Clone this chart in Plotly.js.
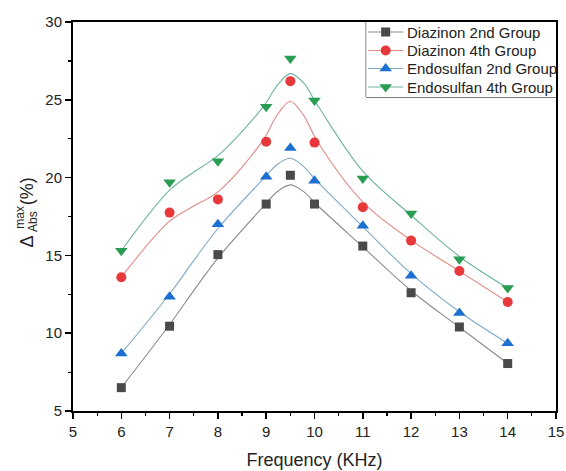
<!DOCTYPE html>
<html>
<head>
<meta charset="utf-8">
<script src="https://cdn.plot.ly/plotly-3.0.1.min.js"></script>
<style>html,body{margin:0;padding:0;background:#fff;}#chart{width:566px;height:471px;}</style>
</head>
<body>
<div id="chart"></div>
<script>
// Measured points
var freq = [6, 7, 8, 9, 9.5, 10, 11, 12, 13, 14];
var diazinon2 = [6.5, 10.45, 15.05, 18.3, 20.15, 18.3, 15.6, 12.6, 10.4, 8.05];
var diazinon4 = [13.6, 17.75, 18.6, 22.3, 26.2, 22.25, 18.1, 15.95, 14.0, 12.0];
var endosulfan2 = [8.7, 12.35, 17.0, 20.05, 21.9, 19.8, 16.9, 13.7, 11.3, 9.35];
var endosulfan4 = [15.3, 19.7, 21.05, 24.55, 27.65, 24.95, 19.95, 17.7, 14.75, 12.9];

// Smoothed connecting curves
var curveX = [6, 7, 7.5, 8, 8.92, 9.24, 9.5, 9.76, 10.08, 11, 12, 13, 14];
var curveD2 = [6.5, 10.56, 12.74, 14.83, 18.07, 19.12, 19.53, 19.13, 18.16, 15.55, 12.73, 10.38, 8.05];
var curveD4 = [13.6, 17.2, 18.17, 19.08, 22.33, 24.09, 24.89, 24.06, 22.22, 18.43, 15.98, 13.99, 12.0];
var curveE2 = [8.7, 12.52, 14.66, 16.73, 19.85, 20.87, 21.24, 20.75, 19.67, 16.85, 13.83, 11.38, 9.35];
var curveE4 = [15.3, 19.19, 20.36, 21.41, 24.48, 25.97, 26.68, 26.13, 24.57, 20.41, 17.58, 14.93, 12.9];

var seriesNames = ["Diazinon 2nd Group", "Diazinon 4th Group", "Endosulfan 2nd Group", "Endosulfan 4th Group"];
var xTicks = [5, 6, 7, 8, 9, 10, 11, 12, 13, 14, 15];
var yTicks = [5, 10, 15, 20, 25, 30];

var pts = [diazinon2, diazinon4, endosulfan2, endosulfan4];
var curves = [curveD2, curveD4, curveE2, curveE4];
var markerColors = ["#4a4a4a", "#e8383b", "#1d6fd1", "#2a9d55"];
var lineColors = ["#8c8c8c", "#e08a84", "#7fa8c8", "#6fb3a0"];
var symbols = ["square", "circle", "triangle-up", "triangle-down"];
var sizes = [9, 10, 11, 11];

var fontFam = "Liberation Sans, Arial, sans-serif";
var traces = [];
for (var i = 0; i < 4; i++) {
  traces.push({x: curveX, y: curves[i], mode: "lines", line: {color: lineColors[i], width: 1.1, shape: "spline", smoothing: 1}, showlegend: false, hoverinfo: "skip"});
}
for (var j = 0; j < 4; j++) {
  traces.push({x: freq, y: pts[j], mode: "markers", marker: {symbol: symbols[j], size: sizes[j], color: markerColors[j]}, showlegend: false});
}

// Custom legend drawn in its own small axes (units: pixels inside the legend box)
var legendRowY = [10, 28.5, 46.5, 65];
var annotations = [];
for (var k = 0; k < 4; k++) {
  traces.push({x: [2, 37], y: [legendRowY[k], legendRowY[k]], xaxis: "x2", yaxis: "y2", mode: "lines",
    line: {color: lineColors[k], width: 1.1}, showlegend: false, hoverinfo: "skip"});
  traces.push({x: [19.5], y: [legendRowY[k]], xaxis: "x2", yaxis: "y2", mode: "markers",
    marker: {symbol: symbols[k], size: sizes[k], color: markerColors[k]}, showlegend: false, hoverinfo: "skip"});
  annotations.push({xref: "x2", yref: "y2", x: 39, y: legendRowY[k], xanchor: "left", yanchor: "middle", showarrow: false,
    text: seriesNames[k], font: {size: 15, family: fontFam, color: "#222"}});
}

annotations = annotations.concat([
  {xref: "paper", yref: "paper", x: -0.095, y: 0.436, xanchor: "center", yanchor: "middle", text: "Δ", textangle: -90, showarrow: false, font: {size: 18, family: fontFam, color: "#222"}},
  {xref: "paper", yref: "paper", x: -0.109, y: 0.498, xanchor: "center", yanchor: "middle", text: "max", textangle: -90, showarrow: false, font: {size: 12, family: fontFam, color: "#222"}},
  {xref: "paper", yref: "paper", x: -0.084, y: 0.487, xanchor: "center", yanchor: "middle", text: "Abs", textangle: -90, showarrow: false, font: {size: 12, family: fontFam, color: "#222"}},
  {xref: "paper", yref: "paper", x: -0.095, y: 0.565, xanchor: "center", yanchor: "middle", text: "(%)", textangle: -90, showarrow: false, font: {size: 18, family: fontFam, color: "#222"}}
]);

var layout = {
  width: 566, height: 471,
  margin: {l: 73, r: 10, t: 22, b: 60},
  paper_bgcolor: "#fff", plot_bgcolor: "#fff",
  font: {family: fontFam, color: "#222", size: 15},
  showlegend: false,
  xaxis: {range: [5, 15], tickvals: xTicks, ticks: "outside", ticklen: 6, tickwidth: 1.5, tickcolor: "#000",
    showline: true, linecolor: "#000", linewidth: 2, mirror: true, showgrid: false, zeroline: false,
    minor: {dtick: 0.5, ticks: "outside", ticklen: 3, tickwidth: 1.2, tickcolor: "#000", showgrid: false},
    tickfont: {size: 15, family: fontFam, color: "#222"},
    title: {text: "Frequency (KHz)", font: {size: 18, family: fontFam, color: "#222"}, standoff: 14}},
  yaxis: {range: [5, 30], tickvals: yTicks, ticks: "outside", ticklen: 6, tickwidth: 1.5, tickcolor: "#000",
    showline: true, linecolor: "#000", linewidth: 2, mirror: true, showgrid: false, zeroline: false,
    minor: {dtick: 2.5, ticks: "outside", ticklen: 3, tickwidth: 1.2, tickcolor: "#000", showgrid: false},
    tickfont: {size: 15, family: fontFam, color: "#222"}},
  xaxis2: {domain: [0.607, 1], range: [0, 190], visible: false, anchor: "y2", fixedrange: true},
  yaxis2: {domain: [0.807, 1], range: [75, 0], visible: false, anchor: "x2", fixedrange: true},
  shapes: [
    {type: "rect", xref: "paper", yref: "paper", x0: 0.607, x1: 1, y0: 0.807, y1: 1, line: {color: "#000", width: 1}, fillcolor: "#fff", layer: "below"}
  ],
  annotations: annotations
};
Plotly.newPlot("chart", traces, layout, {displayModeBar: false, staticPlot: true});
</script>
</body>
</html>
